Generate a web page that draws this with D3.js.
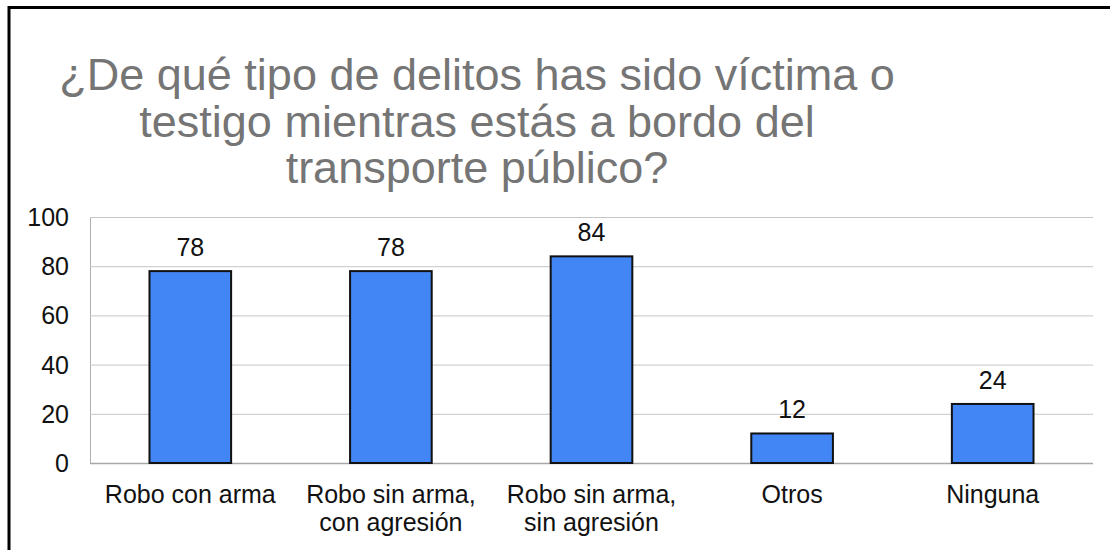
<!DOCTYPE html>
<html>
<head>
<meta charset="utf-8">
<script src="https://cdn.jsdelivr.net/npm/d3@7"></script>
<style>
  html, body { margin: 0; padding: 0; background: #fff; }
  svg { display: block; font-family: Arial, "Liberation Sans", sans-serif; }
</style>
</head>
<body>
<svg id="chart" width="1110" height="550"></svg>
<script>
// Survey answers: crimes experienced or witnessed on public transport
const categories = [
  ["Robo con arma"],
  ["Robo sin arma,", "con agresión"],
  ["Robo sin arma,", "sin agresión"],
  ["Otros"],
  ["Ninguna"]
];
const values = [78, 78, 84, 12, 24];
const yTicks = [0, 20, 40, 60, 80, 100];
const titleLines = [
  "¿De qué tipo de delitos has sido víctima o",
  "testigo mientras estás a bordo del",
  "transporte público?"
];

const svg = d3.select("#chart");
const W = 1110, H = 550;
const plot = { left: 90, right: 1093, top: 217, bottom: 463 };

svg.append("rect").attr("width", W).attr("height", H).attr("fill", "#fff");

// frame (top and left edges)
svg.append("path")
  .attr("d", `M9,${H} L9,7.5 L${W},7.5`)
  .attr("fill", "none")
  .attr("stroke", "#000")
  .attr("stroke-width", 3);

// title
svg.append("g")
  .selectAll("text")
  .data(titleLines)
  .join("text")
  .attr("x", 477)
  .attr("y", (d, i) => 90 + i * 46.5)
  .attr("text-anchor", "middle")
  .attr("font-size", 45)
  .attr("fill", "#757575")
  .text(d => d);

const x = d3.scaleBand()
  .domain(d3.range(categories.length))
  .range([plot.left, plot.right])
  .paddingInner(0.593)
  .paddingOuter(0.2965);

const y = d3.scaleLinear()
  .domain([0, 100])
  .range([plot.bottom, plot.top]);

// gridlines
const yAxis = d3.axisLeft(y)
  .tickValues(yTicks)
  .tickSize(-(plot.right - plot.left))
  .tickFormat(d => d);

const gy = svg.append("g")
  .attr("transform", `translate(${plot.left},0)`)
  .call(yAxis);
gy.select(".domain").attr("stroke", "#b0b0b0").attr("stroke-width", 1);
gy.selectAll(".tick line")
  .attr("stroke", d => d === 0 ? "#a8a8a8" : "#c6c6c6")
  .attr("stroke-width", d => d === 0 ? 1.5 : 1);
gy.selectAll(".tick text")
  .attr("x", -21)
  .attr("dy", "0.34em")
  .attr("font-size", 25)
  .attr("font-family", "Arial, 'Liberation Sans', sans-serif")
  .attr("fill", "#111");

// bars
svg.append("g")
  .selectAll("rect")
  .data(values)
  .join("rect")
  .attr("x", (d, i) => x(i))
  .attr("y", d => y(d))
  .attr("width", x.bandwidth())
  .attr("height", d => y(0) - y(d))
  .attr("fill", "#4285f4")
  .attr("stroke", "#111")
  .attr("stroke-width", 2);

// value labels
svg.append("g")
  .selectAll("text")
  .data(values)
  .join("text")
  .attr("x", (d, i) => x(i) + x.bandwidth() / 2)
  .attr("y", d => y(d) - 15)
  .attr("text-anchor", "middle")
  .attr("font-size", 25)
  .attr("fill", "#111")
  .text(d => d);

// category labels
const cat = svg.append("g")
  .selectAll("text")
  .data(categories)
  .join("text")
  .attr("x", (d, i) => x(i) + x.bandwidth() / 2)
  .attr("y", 503)
  .attr("text-anchor", "middle")
  .attr("font-size", 25)
  .attr("fill", "#111");
cat.selectAll("tspan")
  .data(d => d)
  .join("tspan")
  .attr("x", function () { return d3.select(this.parentNode).attr("x"); })
  .attr("dy", (d, i) => i === 0 ? 0 : 27.5)
  .text(d => d);
</script>
</body>
</html>
